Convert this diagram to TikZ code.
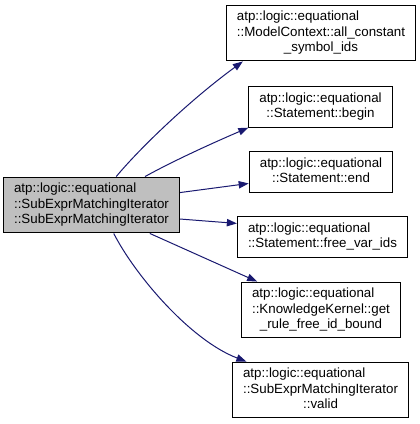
\documentclass[tikz,border=0pt]{standalone}
\usepackage{fontspec}
\setmainfont{Liberation Sans}
\usetikzlibrary{positioning, arrows.meta}
\definecolor{edgeblue}{HTML}{191970}
\definecolor{rootgray}{HTML}{BFBFBF}
\newcommand{\lastline}[1]{\multicolumn{1}{@{}c@{}}{#1}}
\renewcommand{\arraystretch}{0.97}

\begin{document}
\begin{tikzpicture}[
		x=0.75pt, y=-0.75pt,
		fnbox/.style={rectangle, draw=black, fill=white, line width=0.75pt, inner xsep=8pt, inner ysep=3.5pt},
		rootbox/.style={fnbox, fill=rootgray},
		call/.style={draw=edgeblue, line width=0.75pt, -{Triangle[length=7.5pt, width=5.5pt]}}
		]
		
		\useasboundingbox (0,0) rectangle (420,424);
		
		% Nodes
		\node (root) [rootbox] at (91.5,205) {\begin{tabular}{@{}l@{}}atp::logic::equational\\ ::SubExprMatchingIterator\\ \lastline{::SubExprMatchingIterator}\end{tabular}};
		\node (allconst) [fnbox] at (321,33) {\begin{tabular}{@{}l@{}}atp::logic::equational\\ ::ModelContext::all\_constant\\ \lastline{\_symbol\_ids}\end{tabular}};
		\node (begin) [fnbox] at (320.5,107) {\begin{tabular}{@{}l@{}}atp::logic::equational\\ \lastline{::Statement::begin}\end{tabular}};
		\node (end) [fnbox] at (321,172) {\begin{tabular}{@{}l@{}}atp::logic::equational\\ \lastline{::Statement::end}\end{tabular}};
		\node (freevar) [fnbox] at (322.5,237) {\begin{tabular}{@{}l@{}}atp::logic::equational\\ \lastline{::Statement::free\_var\_ids}\end{tabular}};
		\node (rulebound) [fnbox] at (321,310) {\begin{tabular}{@{}l@{}}atp::logic::equational\\ ::KnowledgeKernel::get\\ \lastline{\_rule\_free\_id\_bound}\end{tabular}};
		\node (valid) [fnbox] at (320.5,390) {\begin{tabular}{@{}l@{}}atp::logic::equational\\ ::SubExprMatchingIterator\\ \lastline{::valid}\end{tabular}};
		
		% Arrows
		\draw [call] (root.49) .. controls (140,148) and (190,100) .. (allconst.200);
		\draw [call] (root.28) .. controls (175,160) and (215,142) .. (begin.196);
		\draw [call] (root.8) -- (end.189);
		\draw [call] (root.-9) -- (freevar.171);
		\draw [call] (root.-26) -- (rulebound.156);
		\draw [call] (root.-52) .. controls (135,275) and (190,340) .. (valid.159);
		
	\end{tikzpicture}
\end{document}
